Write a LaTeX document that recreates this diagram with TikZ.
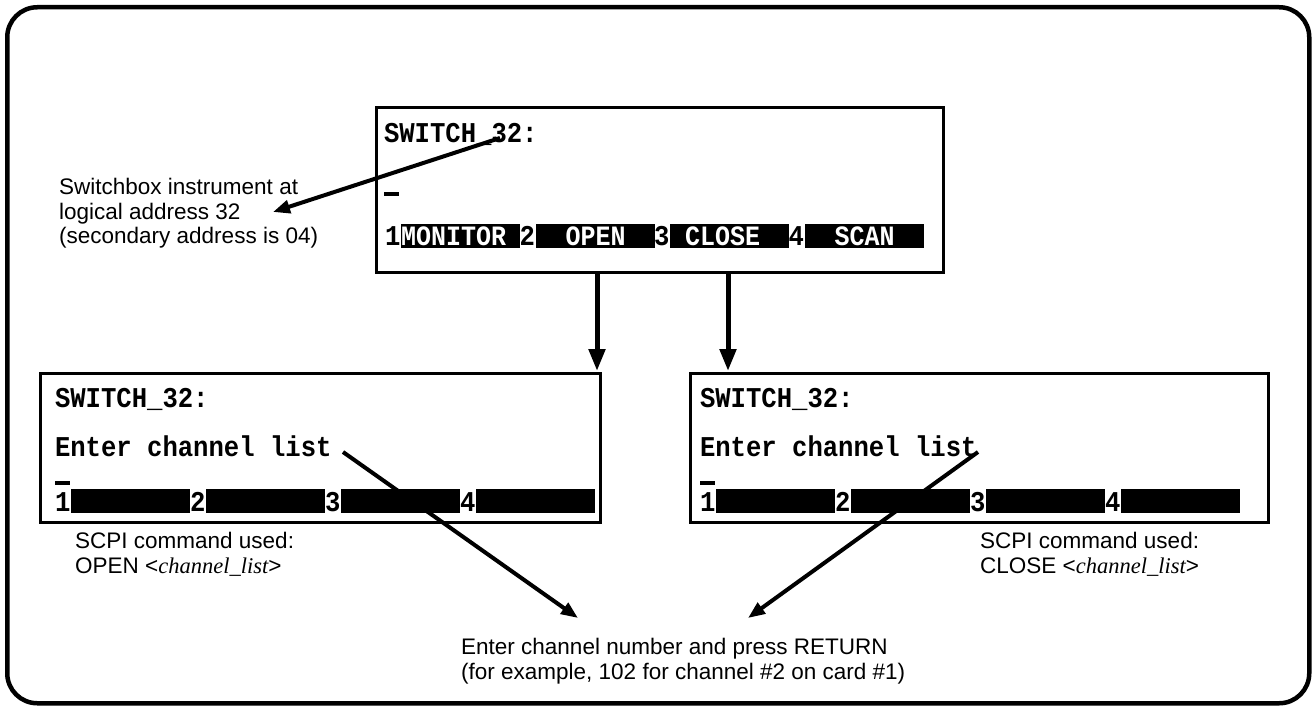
\documentclass[tikz,border=0pt]{standalone}
\usepackage{fontspec}
\usepackage{graphicx}
\setmainfont{Liberation Sans}
\newfontfamily\termfont{Liberation Mono}
\newfontfamily\timesfont{Liberation Serif}
\usetikzlibrary{arrows.meta}
\newcommand\tallt[1]{\scalebox{1}[1.12]{#1}}
\begin{document}
\begin{tikzpicture}[x=1pt,y=-1pt,
 scr/.style={draw,line width=3pt,inner sep=0pt,outer sep=0pt,anchor=north west},
 mono/.style={anchor=base west,inner sep=0pt,outer sep=0pt,font=\termfont\bfseries\fontsize{25.6}{25.6}\selectfont},
 skey/.style={fill=black,inner sep=0pt,outer sep=0pt,minimum width=119pt,minimum height=24.5pt,anchor=west,text=white,font=\termfont\bfseries\fontsize{25}{25}\selectfont},
 curs/.style={fill=black,inner sep=0pt,outer sep=0pt,minimum width=15pt,minimum height=3.5pt,anchor=north west},
 lab/.style={align=left,inner sep=0pt,anchor=north west,font=\fontsize{22.5}{24.5}\selectfont},
 arr/.style={line width=4pt,-{Triangle[length=17pt,width=13pt]}},
 darr/.style={line width=5pt,-{Triangle[length=22pt,width=16pt]},shorten >=2pt}]
\useasboundingbox (0,0) rectangle (1312,706);
% outer frame
\node[draw,line width=4.5pt,rounded corners=30pt,inner sep=0pt,minimum width=1302pt,minimum height=696pt,anchor=north west] (frame) at (5,5) {};

% top screen
\node[scr,minimum width=567pt,minimum height=164pt] (top) at (376,108) {};
\node[mono] (toptitle) at (384,142.5) {\tallt{SWITCH\_32:}};
\node[curs] (topcur) at (384,192) {};
\foreach \k/\lab in {0/MONITOR~,1/~~OPEN~~,2/~CLOSE~~,3/~~SCAN~~}{
  \node[mono] (td\k) at ({385+134.5*\k},245) {\tallt{\the\numexpr\k+1\relax}};
  \node[skey] (tk\k) at ({401+134.5*\k},236) {\makebox[119pt][l]{\tallt{\lab}}};
}

% bottom left screen
\node[scr,minimum width=560pt,minimum height=149pt] (bl) at (40,373) {};
\node[mono] (bltitle) at (55,407) {\tallt{SWITCH\_32:}};
\node[mono] (blenter) at (55,456) {\tallt{Enter channel list}};
\node[curs] (blcur) at (55,481) {};
\foreach \k in {0,1,2,3}{
  \node[mono] (bld\k) at ({55+135*\k},511) {\tallt{\the\numexpr\k+1\relax}};
  \node[skey] (blk\k) at ({71+135*\k},501) {};
}

% bottom right screen
\node[scr,minimum width=578pt,minimum height=149pt] (br) at (690,373) {};
\node[mono] (brtitle) at (700,407) {\tallt{SWITCH\_32:}};
\node[mono] (brenter) at (700,456) {\tallt{Enter channel list}};
\node[curs] (brcur) at (700,481) {};
\foreach \k in {0,1,2,3}{
  \node[mono] (brd\k) at ({700+135*\k},511) {\tallt{\the\numexpr\k+1\relax}};
  \node[skey] (brk\k) at ({716+135*\k},501) {};
}

% labels
\node[lab] (swlab) at (59,178) {Switchbox instrument at\\logical address 32\\(secondary address is 04)};
\node[lab] (scpil) at (75,532) {SCPI command used:\\OPEN <{\timesfont\itshape channel\_list}>};
\node[lab] (scpir) at (980,532) {SCPI command used:\\CLOSE <{\timesfont\itshape channel\_list}>};
\node[lab] (enterlab) at (461,638) {Enter channel number and press RETURN\\(for example, 102 for channel \#2 on card \#1)};

% connectors
\coordinate (s32) at (500,138);
\coordinate (swtip) at (273,212);
\draw[arr] (s32) -- (swtip);

\coordinate (d1s) at (597,272);
\coordinate (d1e) at (597,373);
\coordinate (d2s) at (728,272);
\coordinate (d2e) at (728,373);
\draw[darr] (d1s) -- (d1e);
\draw[darr] (d2s) -- (d2e);

\coordinate (lls) at (343,452);
\coordinate (llt) at (578,618);
\coordinate (rls) at (978,452);
\coordinate (rlt) at (748,618);
\draw[arr] (lls) -- (llt);
\draw[arr] (rls) -- (rlt);
\end{tikzpicture}
\end{document}
